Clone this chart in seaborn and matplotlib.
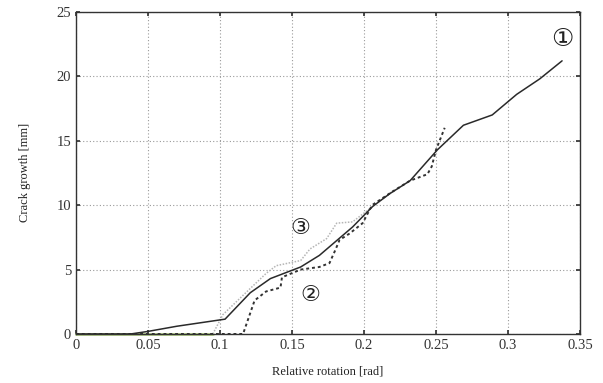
import matplotlib
matplotlib.use("Agg")
import matplotlib.pyplot as plt
import seaborn as sns
import pandas as pd

# Curve 1 (solid)
x1 = [0.0, 0.038, 0.05, 0.07, 0.1035, 0.121, 0.135, 0.156, 0.169, 0.192, 0.206, 0.218, 0.232, 0.251, 0.269, 0.289, 0.306, 0.322, 0.3375]
y1 = [0.0, 0.0, 0.2, 0.6, 1.15, 3.2, 4.3, 5.2, 6.1, 8.3, 9.9, 10.9, 11.9, 14.3, 16.2, 17.0, 18.6, 19.8, 21.2]
# Curve 2 (dashed)
x2 = [0.0, 0.116, 0.124, 0.132, 0.142, 0.143, 0.156, 0.169, 0.176, 0.18, 0.183, 0.19, 0.199, 0.2056, 0.219, 0.232, 0.244, 0.247, 0.25, 0.256]
y2 = [0.0, 0.0, 2.6, 3.3, 3.6, 4.4, 5.0, 5.2, 5.5, 6.5, 7.3, 7.8, 8.6, 10.0, 11.0, 11.9, 12.4, 13.0, 14.3, 16.0]
# Curve 3 (dotted, light)
x3 = [0.095, 0.102, 0.116, 0.132, 0.139, 0.156, 0.1625, 0.174, 0.181, 0.192, 0.206, 0.22]
y3 = [0.0, 1.5, 3.0, 4.7, 5.3, 5.7, 6.6, 7.4, 8.6, 8.7, 9.9, 11.1]
# zero baseline of curve 3
x3_base = [0.0, 0.095]
y3_base = [0.0, 0.0]

xticks = [0, 0.05, 0.1, 0.15, 0.2, 0.25, 0.3, 0.35]
xtick_labels = ["0", "0.05", "0.1", "0.15", "0.2", "0.25", "0.3", "0.35"]
yticks = [0, 5, 10, 15, 20, 25]
ytick_labels = ["0", "5", "10", "15", "20", "25"]

sns.set_theme(style="white")
plt.rcParams['font.family'] = ['Liberation Serif', 'DejaVu Sans']

fig = plt.figure(figsize=(6.03, 3.83), dpi=100)
ax = fig.add_axes([0.126, 0.128, 0.836, 0.841])

d1 = pd.DataFrame({"x": x1, "y": y1})
d2 = pd.DataFrame({"x": x2, "y": y2})
d3 = pd.DataFrame({"x": x3, "y": y3})
d3b = pd.DataFrame({"x": x3_base, "y": y3_base})

sns.lineplot(data=d3b, x="x", y="y", ax=ax, color="#b8d48a", linestyle="-", linewidth=2.0, sort=False, clip_on=False)
sns.lineplot(data=d3, x="x", y="y", ax=ax, color="#b5b5b5", linestyle=(0, (1, 1)), linewidth=1.1, sort=False)
sns.lineplot(data=d2, x="x", y="y", ax=ax, color="#333333", linestyle=(0, (1.5, 1.5)), linewidth=1.4, sort=False)
sns.lineplot(data=d1, x="x", y="y", ax=ax, color="#2a2a2a", linestyle="-", linewidth=1.1, sort=False)

ax.set_xlim(0, 0.35)
ax.set_ylim(0, 25)
ax.set_xticks(xticks)
ax.set_xticklabels(xtick_labels)
ax.set_yticks(yticks)
ax.set_yticklabels(ytick_labels)
ax.grid(True, color="#9a9a9a", linestyle=(0, (1, 2)), linewidth=0.8)
ax.tick_params(axis="both", direction="in", length=3, labelsize=10.5, colors="#333333",
               top=True, right=True, bottom=True, left=True)
for s in ax.spines.values():
    s.set_color("#333333")
    s.set_linewidth(1.0)

ax.set_xlabel("Relative rotation [rad]", fontsize=9, color="#222222", labelpad=10)
ax.set_ylabel("Crack growth [mm]", fontsize=9, color="#222222", labelpad=18)

ax.text(0.3375, 22.9, "①", fontsize=18, ha="center", va="center", color="#222222",
        family=["DejaVu Sans"])
ax.text(0.1556, 8.2, "③", fontsize=16, ha="center", va="center", color="#222222",
        family=["DejaVu Sans"])
ax.text(0.1625, 3.0, "②", fontsize=16, ha="center", va="center", color="#222222",
        family=["DejaVu Sans"])

fig.savefig("out.png", dpi=100)
